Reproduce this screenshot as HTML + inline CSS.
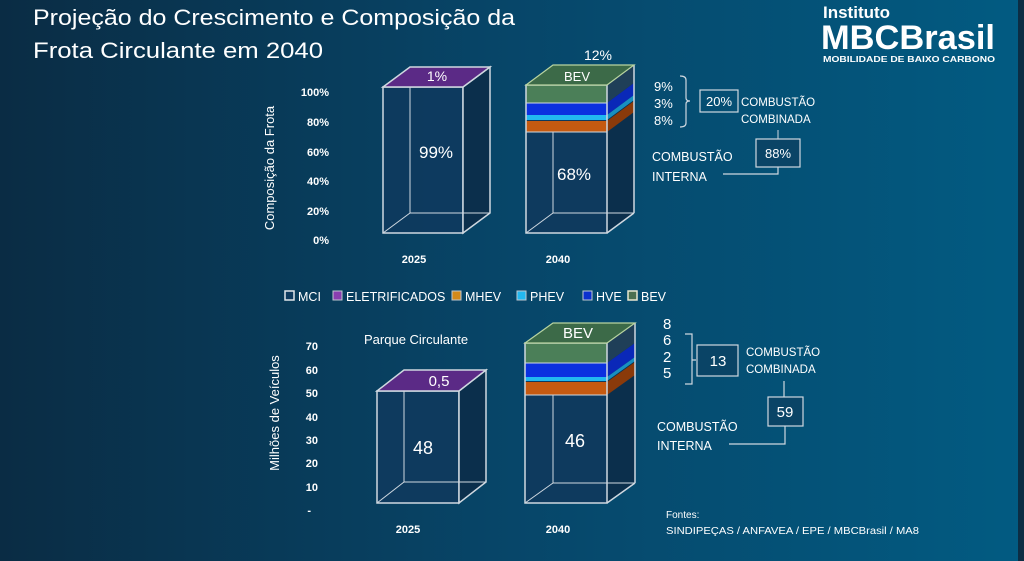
<!DOCTYPE html>
<html><head><meta charset="utf-8"><style>
html,body{margin:0;padding:0;width:1024px;height:561px;overflow:hidden}
svg{display:block}
text{font-family:"Liberation Sans",sans-serif;fill:#fff}
</style></head><body>
<svg width="1024" height="561" viewBox="0 0 1024 561">
<defs>
<linearGradient id="bg" x1="0" y1="0" x2="1" y2="0">
<stop offset="0" stop-color="#0a2c44"/><stop offset="0.5" stop-color="#074669"/><stop offset="1" stop-color="#025b82"/>
</linearGradient>
</defs>
<rect width="1024" height="561" fill="url(#bg)"/>
<rect x="1018" y="0" width="6" height="561" fill="#0c2d44"/>

<!-- Title -->
<text x="33" y="25" font-size="22" textLength="482" lengthAdjust="spacingAndGlyphs">Projeção do Crescimento e Composição da</text>
<text x="33" y="58" font-size="22" textLength="290" lengthAdjust="spacingAndGlyphs">Frota Circulante em  2040</text>

<!-- Logo -->
<text x="823" y="18" font-size="17" font-weight="bold">Instituto</text>
<text x="821" y="49" font-size="34" font-weight="bold" textLength="174" lengthAdjust="spacingAndGlyphs">MBCBrasil</text>
<text x="823" y="62" font-size="8" font-weight="bold" textLength="172" lengthAdjust="spacingAndGlyphs">MOBILIDADE DE BAIXO CARBONO</text>

<!-- Axis labels top -->
<g font-size="11" font-weight="bold" text-anchor="end" fill="#fff">
<text x="329" y="96">100%</text><text x="329" y="126">80%</text><text x="329" y="156">60%</text>
<text x="329" y="185">40%</text><text x="329" y="215">20%</text><text x="329" y="244">0%</text>
</g>
<text transform="translate(274,168) rotate(-90)" font-size="13" text-anchor="middle" fill="#d8e4ec">Composição da Frota</text>

<!-- Top 2025 box -->
<g stroke="#cfd8e0" stroke-width="1.5">
<rect x="383" y="87" width="80" height="146" fill="#0e3a5e" fill-opacity="0.9"/>
<polygon points="463,87 490,67 490,213 463,233" fill="#0b2f4c"/>
<line x1="410" y1="67" x2="410" y2="213" stroke-width="1"/>
<line x1="410" y1="213" x2="490" y2="213" stroke-width="1"/>
<line x1="383" y1="233" x2="410" y2="213" stroke-width="1"/>
<polygon points="383,87 410,67 490,67 463,87" fill="#5b2a86"/>
</g>
<text x="437" y="81" font-size="14" text-anchor="middle">1%</text>
<text x="436" y="158" font-size="17" text-anchor="middle">99%</text>

<!-- Top 2040 box -->
<g stroke="none">
<rect x="526" y="85" width="81" height="148" fill="#0e3a5e"/>
<polygon points="607,85 634,65 634,213 607,233" fill="#0b2f4c"/>
<rect x="526" y="85" width="81" height="18" fill="#4b7f58"/>
<polygon points="607,85 634,65 634,83 607,103" fill="#1f3f58"/>
<rect x="526" y="103" width="81" height="12" fill="#0b30e0"/>
<polygon points="607,103 634,83 634,95 607,115" fill="#0a28b8"/>
<rect x="526" y="115" width="81" height="5" fill="#22b8f0"/>
<polygon points="607,115 634,95 634,100 607,120" fill="#1890c0"/>
<rect x="526" y="121" width="81" height="11" fill="#c55a11"/>
<polygon points="607,121 634,101 634,112 607,132" fill="#8a3a0a"/>
</g>
<g stroke="#cfd8e0" stroke-width="1" fill="none">
<rect x="526" y="85" width="81" height="148" stroke-width="1.5"/>
<line x1="553" y1="132" x2="553" y2="213"/>
<line x1="553" y1="213" x2="634" y2="213"/>
<line x1="526" y1="233" x2="553" y2="213"/>
<line x1="634" y1="65" x2="634" y2="213" stroke-width="1.5"/>
<line x1="607" y1="233" x2="634" y2="213" stroke-width="1.5"/>
<line x1="526" y1="132" x2="607" y2="132"/>
<line x1="526" y1="103" x2="607" y2="103"/>
</g>
<polygon points="526,85 553,65 634,65 607,85" fill="#3c6a48" stroke="#b8d4a0" stroke-width="1.2"/>
<text x="577" y="81" font-size="13" text-anchor="middle">BEV</text>
<text x="598" y="60" font-size="14" text-anchor="middle">12%</text>
<text x="574" y="180" font-size="17" text-anchor="middle">68%</text>
<text x="414" y="263" font-size="11" font-weight="bold" text-anchor="middle">2025</text>
<text x="558" y="263" font-size="11" font-weight="bold" text-anchor="middle">2040</text>

<!-- Top annotations -->
<g font-size="13" fill="#e8eef2">
<text x="654" y="91">9%</text><text x="654" y="108">3%</text><text x="654" y="125">8%</text>
</g>
<path d="M680,76 q6,0 6,4 v18 q0,3 4,3 q-4,0 -4,3 v19 q0,4 -6,4" stroke="#cfd8e0" fill="none" stroke-width="1.2"/>
<rect x="700" y="90" width="38" height="22" fill="none" stroke="#cfd8e0" stroke-width="1.2"/>
<text x="719" y="106" font-size="13" text-anchor="middle">20%</text>
<text x="741" y="106" font-size="11.5">COMBUSTÃO</text>
<text x="741" y="123" font-size="11.5">COMBINADA</text>
<line x1="778" y1="130" x2="778" y2="139" stroke="#cfd8e0"/>
<rect x="756" y="139" width="44" height="28" fill="#0a4466" stroke="#cfd8e0" stroke-width="1.2"/>
<text x="778" y="158" font-size="13" text-anchor="middle">88%</text>
<text x="652" y="161" font-size="12.5">COMBUSTÃO</text>
<text x="652" y="181" font-size="12.5">INTERNA</text>
<polyline points="723,174 778,174 778,167" fill="none" stroke="#cfd8e0" stroke-width="1.2"/>

<!-- Legend -->
<g font-size="12.5" fill="#fff">
<rect x="285" y="291" width="9" height="9" fill="#0e3a5e" stroke="#e0e6ea" stroke-width="1.5"/><text x="298" y="301">MCI</text>
<rect x="333" y="291" width="9" height="9" fill="#8a3fb0" stroke="#c0c8d0"/><text x="346" y="301">ELETRIFICADOS</text>
<rect x="452" y="291" width="9" height="9" fill="#d48a1a" stroke="#c0c8d0"/><text x="465" y="301">MHEV</text>
<rect x="517" y="291" width="9" height="9" fill="#22b8f0" stroke="#c0c8d0"/><text x="530" y="301">PHEV</text>
<rect x="583" y="291" width="9" height="9" fill="#0b30d0" stroke="#c0c8d0"/><text x="596" y="301">HVE</text>
<rect x="628" y="291" width="9" height="9" fill="#4b7050" stroke="#e8e8d0" stroke-width="1.5"/><text x="641" y="301">BEV</text>
</g>

<!-- Bottom axis -->
<g font-size="11" font-weight="bold" text-anchor="end">
<text x="318" y="350">70</text><text x="318" y="374">60</text><text x="318" y="397">50</text>
<text x="318" y="421">40</text><text x="318" y="444">30</text><text x="318" y="467">20</text>
<text x="318" y="491">10</text><text x="311" y="514">-</text>
</g>
<text transform="translate(279,413) rotate(-90)" font-size="13" text-anchor="middle" fill="#d8e4ec">Milhões de Veículos</text>
<text x="364" y="344" font-size="13" fill="#e8eef2">Parque Circulante</text>

<!-- Bottom 2025 -->
<g stroke="#cfd8e0" stroke-width="1.5">
<rect x="377" y="391" width="82" height="112" fill="#0e3a5e"/>
<polygon points="459,391 486,370 486,482 459,503" fill="#0b2f4c"/>
<line x1="404" y1="370" x2="404" y2="482" stroke-width="1"/>
<line x1="404" y1="482" x2="486" y2="482" stroke-width="1"/>
<line x1="377" y1="503" x2="404" y2="482" stroke-width="1"/>
<polygon points="377,391 404,370 486,370 459,391" fill="#5b2a86"/>
</g>
<text x="439" y="386" font-size="15" text-anchor="middle">0,5</text>
<text x="423" y="454" font-size="18" text-anchor="middle">48</text>

<!-- Bottom 2040 -->
<g stroke="none">
<rect x="525" y="343" width="82" height="160" fill="#0e3a5e"/>
<polygon points="607,343 635,323 635,483 607,503" fill="#0b2f4c"/>
<rect x="525" y="343" width="82" height="20" fill="#4b7f58"/>
<polygon points="607,343 635,323 635,343 607,363" fill="#1f3f58"/>
<rect x="525" y="363" width="82" height="14" fill="#0b30e0"/>
<polygon points="607,363 635,343 635,357 607,377" fill="#0a28b8"/>
<rect x="525" y="377" width="82" height="4" fill="#22b8f0"/>
<polygon points="607,377 635,357 635,361 607,381" fill="#1890c0"/>
<rect x="525" y="382" width="82" height="13" fill="#c55a11"/>
<polygon points="607,382 635,362 635,375 607,395" fill="#8a3a0a"/>
</g>
<g stroke="#cfd8e0" stroke-width="1" fill="none">
<rect x="525" y="343" width="82" height="160" stroke-width="1.5"/>
<line x1="553" y1="395" x2="553" y2="483"/>
<line x1="553" y1="483" x2="635" y2="483"/>
<line x1="525" y1="503" x2="553" y2="483"/>
<line x1="635" y1="323" x2="635" y2="483" stroke-width="1.5"/>
<line x1="607" y1="503" x2="635" y2="483" stroke-width="1.5"/>
<line x1="525" y1="395" x2="607" y2="395"/>
<line x1="525" y1="363" x2="607" y2="363"/>
</g>
<polygon points="525,343 553,323 635,323 607,343" fill="#3c6a48" stroke="#b8d4a0" stroke-width="1.2"/>
<text x="578" y="338" font-size="15" text-anchor="middle">BEV</text>
<text x="575" y="447" font-size="18" text-anchor="middle">46</text>
<text x="408" y="533" font-size="11" font-weight="bold" text-anchor="middle">2025</text>
<text x="558" y="533" font-size="11" font-weight="bold" text-anchor="middle">2040</text>

<!-- Bottom annotations -->
<g font-size="15" fill="#e8eef2">
<text x="663" y="329">8</text><text x="663" y="345">6</text><text x="663" y="362">2</text><text x="663" y="378">5</text>
</g>
<path d="M685,334 h7 v50 h-7 M692,360 h4" stroke="#cfd8e0" fill="none" stroke-width="1.2"/>
<rect x="697" y="345" width="41" height="31" fill="#0a4466" stroke="#cfd8e0" stroke-width="1.2"/>
<text x="718" y="366" font-size="15" text-anchor="middle">13</text>
<text x="746" y="356" font-size="11.5">COMBUSTÃO</text>
<text x="746" y="373" font-size="11.5">COMBINADA</text>
<line x1="784" y1="381" x2="784" y2="397" stroke="#cfd8e0" stroke-width="1.2"/>
<rect x="768" y="397" width="35" height="29" fill="#0a4466" stroke="#cfd8e0" stroke-width="1.2"/>
<text x="785" y="417" font-size="15" text-anchor="middle">59</text>
<text x="657" y="431" font-size="12.5">COMBUSTÃO</text>
<text x="657" y="450" font-size="12.5">INTERNA</text>
<polyline points="729,444 785,444 785,426" fill="none" stroke="#cfd8e0" stroke-width="1.2"/>

<text x="666" y="518" font-size="10" fill="#e0e8ee">Fontes:</text>
<text x="666" y="534" font-size="10" fill="#e0e8ee" textLength="253" lengthAdjust="spacingAndGlyphs">SINDIPEÇAS / ANFAVEA / EPE / MBCBrasil / MA8</text>
</svg>
</body></html>
